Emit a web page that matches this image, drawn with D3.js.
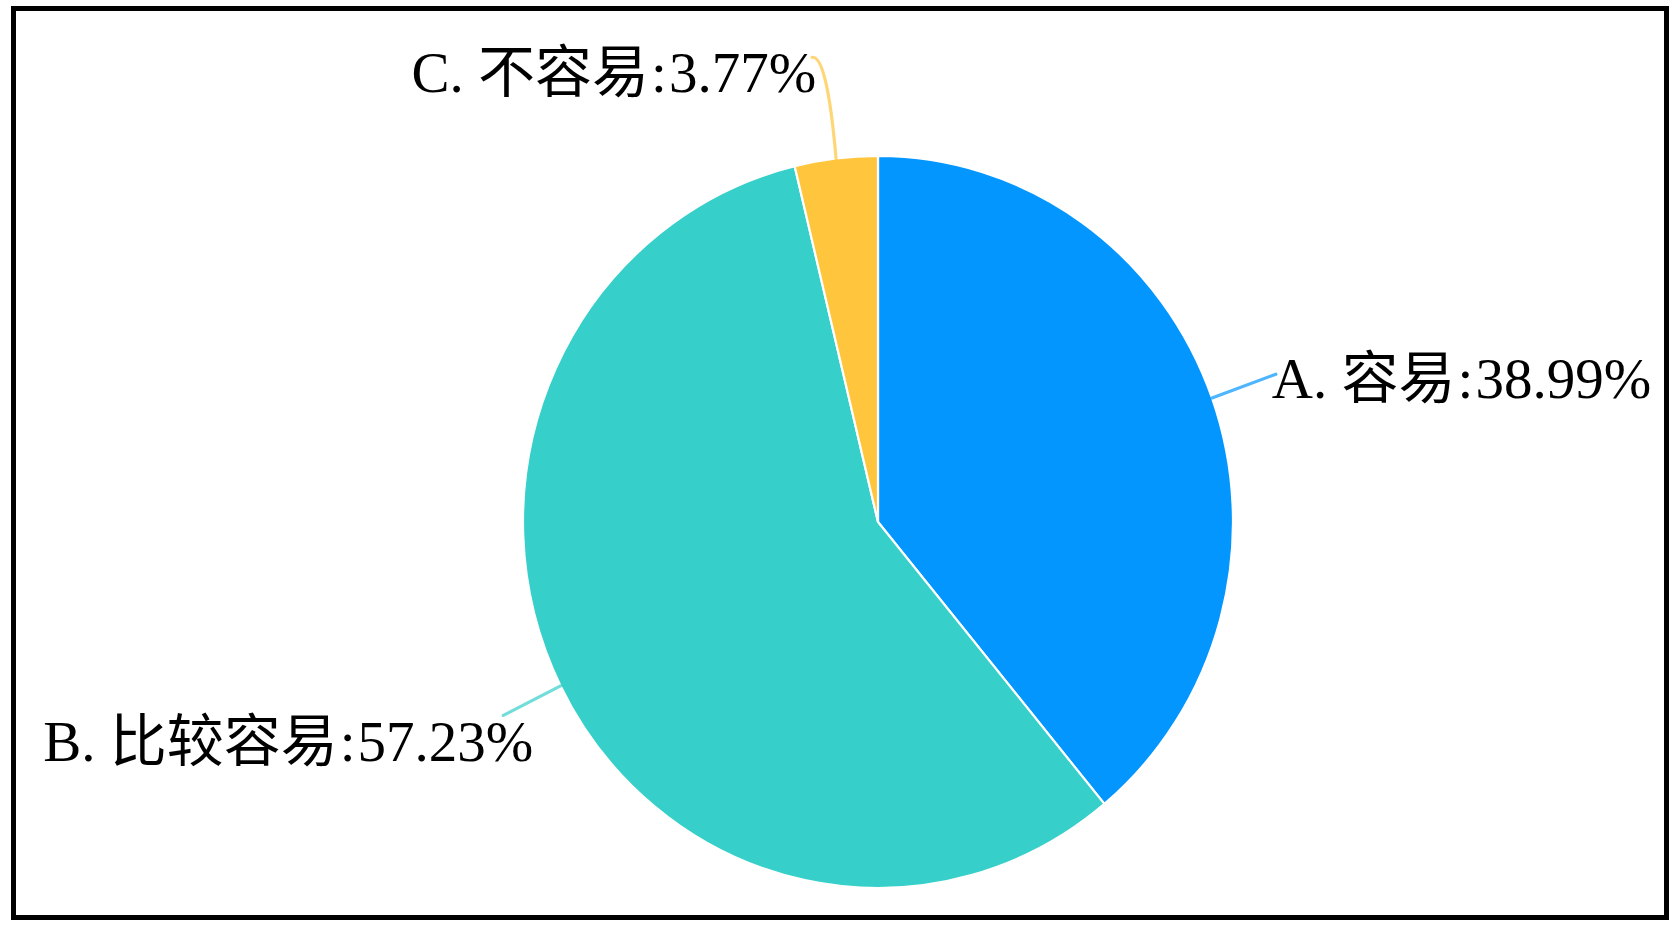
<!DOCTYPE html>
<html>
<head>
<meta charset="utf-8">
<script src="https://cdn.jsdelivr.net/npm/d3@7/dist/d3.min.js"></script>
<style>
  html, body { margin: 0; padding: 0; background: #fff; }
  svg { display: block; }
</style>
</head>
<body>
<svg id="chart" width="1680" height="930"></svg>
<script>
// ---- data ----
const categories = ["A. 容易", "B. 比较容易", "C. 不容易"];
const values = [38.99, 57.23, 3.77];
const colors = ["#0396FF", "#36CFC9", "#FFC53D"];

// ---- layout ----
const W = 1680, H = 930;
const cx = 878, cy = 522;
const R = 366;            // vertical radius
const sx = 355 / 366;     // horizontal squash of the drawn pie
const fontSize = 57;

const svg = d3.select("#chart");

// frame
svg.append("rect")
  .attr("x", 13.5).attr("y", 8.5)
  .attr("width", W - 27).attr("height", H - 21)
  .attr("fill", "#fff")
  .attr("stroke", "#000")
  .attr("stroke-width", 5);

const data = categories.map((c, i) => ({ name: c, value: values[i], color: colors[i] }));

const pie = d3.pie().sort(null).value(d => d.value);
const arcs = pie(data);
const arc = d3.arc().innerRadius(0).outerRadius(R);

const g = svg.append("g")
  .attr("transform", `translate(${cx},${cy}) scale(${sx},1)`);

g.selectAll("path.slice")
  .data(arcs)
  .join("path")
  .attr("class", "slice")
  .attr("d", arc)
  .attr("fill", d => d.data.color)
  .attr("stroke", "#fff")
  .attr("stroke-width", 2.2)
  .attr("vector-effect", "non-scaling-stroke");

// point on the (squashed) pie outline at angle a (0 = 12 o'clock, clockwise), radius r
function pt(a, r) {
  return [cx + sx * r * Math.sin(a), cy - r * Math.cos(a)];
}

// label settings (leader length, bend, label offset, anchor)
const labelCfg = [
  { len: 70, bend: null, anchor: "start", dx: -4, dy: 24 },
  { len: 66, bend: null, anchor: "end", dx: 30, dy: 46 },
  { len: 104, bend: [-12, 2], anchor: "end", dx: 4, dy: 35 }
];

const labelsG = svg.append("g");

arcs.forEach((d, i) => {
  const mid = (d.startAngle + d.endAngle) / 2;
  const cfg = labelCfg[i];
  const p0 = pt(mid, R);
  const p1 = pt(mid, R + cfg.len);
  let pathD, end;
  if (cfg.bend) {
    end = [p1[0] + cfg.bend[0], p1[1] + cfg.bend[1]];
    pathD = `M${p0[0]},${p0[1]} Q${p1[0] + 3},${p1[1]} ${end[0]},${end[1]}`;
  } else {
    end = p1;
    pathD = `M${p0[0]},${p0[1]} L${p1[0]},${p1[1]}`;
  }
  labelsG.append("path")
    .attr("d", pathD)
    .attr("fill", "none")
    .attr("stroke", d.data.color)
    .attr("stroke-opacity", 0.7)
    .attr("stroke-width", 3.2)
    .attr("stroke-linecap", "round");

  const t = labelsG.append("text")
    .attr("x", end[0] + cfg.dx)
    .attr("y", end[1] + cfg.dy)
    .attr("text-anchor", cfg.anchor)
    .attr("font-family", "'Liberation Serif', 'Times New Roman', 'Noto Sans CJK SC', serif")
    .attr("font-size", fontSize)
    .attr("fill", "#000");
  t.append("tspan").text(d.data.name);
  t.append("tspan").attr("dx", 2).text(":");
  t.append("tspan").attr("dx", 2).text(`${d.data.value.toFixed(2)}%`);
});
</script>
</body>
</html>
